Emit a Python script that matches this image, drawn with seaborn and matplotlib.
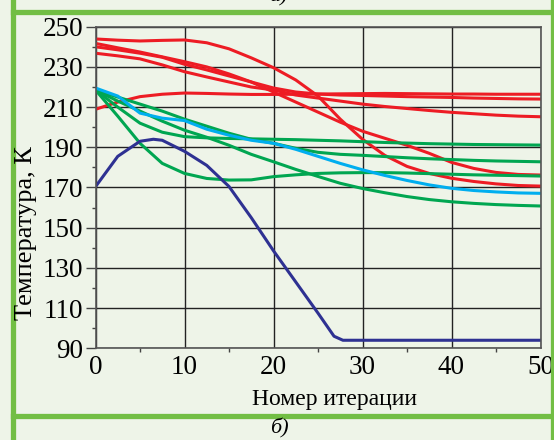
import matplotlib
matplotlib.use('Agg')
import matplotlib.pyplot as plt
from matplotlib.lines import Line2D
import seaborn as sns
import pandas as pd

# iteration grid shared by the smooth curves
iters = [0, 2.5, 5, 7.5, 10, 12.5, 15, 17.5, 20, 22.5, 25,
         27.5, 30, 32.5, 35, 37.5, 40, 42.5, 45, 47.5, 50]

red_a = [243.9, 243.3, 242.9, 243.2, 243.4, 242.0, 239.0, 234.5, 229.6, 223.5, 215.5,
         204.0, 194.0, 186.0, 180.5, 177.0, 174.6, 173.0, 171.8, 171.0, 170.7]
red_b = [241.7, 239.5, 237.4, 235.0, 232.6, 230.0, 226.5, 222.5, 217.5, 212.5, 207.5,
         202.5, 198.0, 194.5, 191.0, 187.0, 182.5, 179.5, 177.5, 176.5, 176.2]
red_c = [240.0, 238.5, 236.8, 234.8, 231.3, 228.5, 225.5, 222.5, 219.5, 217.5, 216.5,
         216.0, 215.8, 215.5, 215.2, 215.0, 214.8, 214.5, 214.3, 214.1, 214.0]
red_d = [236.8, 235.5, 234.0, 231.0, 227.6, 225.0, 222.5, 220.0, 218.5, 216.0, 214.5,
         213.0, 211.5, 210.3, 209.3, 208.3, 207.4, 206.7, 206.0, 205.5, 205.2]
red_e = [208.9, 212.5, 215.2, 216.4, 217.0, 216.8, 216.5, 216.3, 216.3, 216.4, 216.5,
         216.6, 216.7, 216.8, 216.7, 216.6, 216.5, 216.5, 216.4, 216.4, 216.4]
cyan = [219.5, 215.5, 207.0, 204.5, 203.3, 199.0, 196.0, 193.5, 192.0, 189.0, 185.5,
        182.0, 178.8, 176.0, 173.5, 171.3, 169.6, 168.5, 167.8, 167.3, 167.1]
green_a = [218.5, 210.0, 202.0, 197.5, 195.3, 194.7, 194.4, 194.2, 194.0, 193.8, 193.5,
           193.2, 192.8, 192.4, 192.1, 191.8, 191.6, 191.4, 191.3, 191.2, 191.1]
green_b = [218.5, 215.0, 211.5, 208.0, 204.0, 200.5, 197.0, 194.0, 192.0, 189.5, 187.5,
           186.5, 186.0, 185.4, 184.8, 184.3, 183.9, 183.5, 183.2, 183.0, 182.8]
green_c = [218.5, 213.0, 208.0, 203.0, 198.5, 195.0, 191.0, 186.5, 182.8, 179.0, 175.5,
           172.1, 169.5, 167.4, 165.5, 164.0, 162.9, 162.1, 161.5, 161.1, 160.8]
green_d = [218.5, 205.5, 192.0, 182.0, 177.0, 174.5, 173.7, 173.8, 175.4, 176.3, 177.0,
           177.3, 177.4, 177.4, 177.2, 176.9, 176.6, 176.3, 176.1, 175.9, 175.7]

# the dark blue curve has its own grid (sharp corner near 27)
navy_iters = [0, 2.5, 5, 6.5, 7.5, 10, 12.5, 15, 17.5, 20, 22.5, 25,
              26.8, 27.8, 30, 35, 40, 45, 50]
navy = [170.4, 185.5, 193.0, 194.0, 193.5, 188.0, 181.0, 170.5, 155.0, 138.5, 123.0, 107.5,
        96.0, 94.0, 94.0, 94.0, 94.0, 94.0, 94.0]

x_ticks = [0, 10, 20, 30, 40, 50]
y_ticks = [90, 110, 130, 150, 170, 190, 210, 230, 250]

series = {'r1': red_a, 'r2': red_b, 'r3': red_c, 'r4': red_d, 'r5': red_e,
          'g1': green_a, 'g2': green_b, 'g3': green_c, 'g4': green_d, 'c': cyan}
colors = {'r1': '#ed1c24', 'r2': '#ed1c24', 'r3': '#ed1c24', 'r4': '#ed1c24', 'r5': '#ed1c24',
          'g1': '#00a651', 'g2': '#00a651', 'g3': '#00a651', 'g4': '#00a651',
          'c': '#00aeef', 'n': '#2e3192'}

rows = []
for name, vals in series.items():
    rows += [(name, x, v) for x, v in zip(iters, vals)]
rows += [('n', x, v) for x, v in zip(navy_iters, navy)]
df = pd.DataFrame(rows, columns=['curve', 'iter', 'temp'])

bg = '#eef4e8'
frame = '#72be44'
plt.rcParams['font.family'] = ['Liberation Serif', 'DejaVu Serif']

fig = plt.figure(figsize=(5.54, 4.40), dpi=100, facecolor=bg)
ax = fig.add_axes([95.5 / 554, 1 - 348.3 / 440, 445 / 554, 321.6 / 440])
ax.set_facecolor(bg)

sns.lineplot(data=df, x='iter', y='temp', hue='curve', palette=colors,
             linewidth=2.2, legend=False, ax=ax, sort=False, estimator=None)

ax.set_xlim(0, 50)
ax.set_ylim(90, 250)
ax.set_xticks(x_ticks)
ax.set_xticks([x + 5 for x in x_ticks[:-1]], minor=True)
ax.set_yticks(y_ticks)
ax.set_yticks([y + 10 for y in y_ticks[:-1]], minor=True)
ax.grid(True, which='major', color='#222222', linewidth=1.0)
ax.set_axisbelow(True)
for s in ax.spines.values():
    s.set_color('#555555')
    s.set_linewidth(1.2)
ax.tick_params(axis='y', which='major', length=7, width=1.0, color='#444444',
               labelsize=19.5, pad=2)
ax.tick_params(axis='y', which='minor', length=3, width=1.0, color='#444444')
ax.tick_params(axis='x', which='major', length=0, labelsize=19.5, pad=5)
ax.tick_params(axis='x', which='minor', length=3, width=1.0, color='#444444')

ax.set_xlabel('')
ax.set_ylabel('')
fig.text(335 / 554, 1 - 399 / 440, 'Номер итерации', fontsize=17,
         ha='center', va='center')
fig.text(26.5 / 554, 1 - 233 / 440, 'Температура, К', fontsize=19,
         ha='center', va='center', rotation=90)

# green frame around the panel
for y in (12.4 / 440, 415.7 / 440):
    fig.add_artist(Line2D([13 / 554, 1], [1 - y, 1 - y], color=frame, lw=3.8))
fig.add_artist(Line2D([13 / 554, 13 / 554], [0, 1], color=frame, lw=3.8))
fig.add_artist(Line2D([553 / 554, 553 / 554], [0, 1], color=frame, lw=3.8))
fig.text(279 / 554, 1 - 428 / 440, 'б)', fontsize=16, style='italic',
         ha='center', va='center')
fig.text(279 / 554, 1 + 3 / 440, 'а)', fontsize=16, style='italic',
         ha='center', va='center')

fig.savefig('out.png', dpi=100, facecolor=bg)
